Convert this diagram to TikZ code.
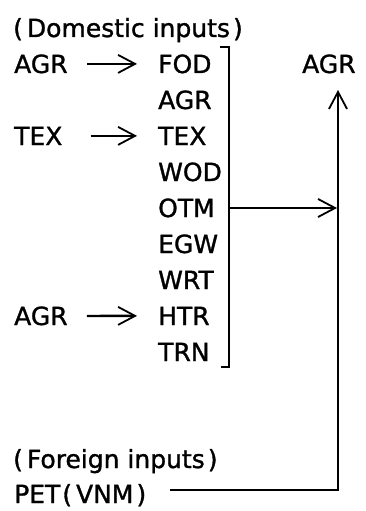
\documentclass[tikz,border=0pt]{standalone}
\usepackage{fontspec}
\setmainfont{DejaVu Sans}[RawFeature={embolden=1.2}]
\usetikzlibrary{arrows.meta}
\newcommand{\lp}{(\kern4pt}
\newcommand{\rp}{\kern3pt)}
\begin{document}
\begin{tikzpicture}[x=1pt,y=-1pt,
  lbl/.style={anchor=base west,inner sep=0pt,font=\fontsize{25}{30}\selectfont},
  ln/.style={line width=2.3pt},
  arr/.style={ln,-{Straight Barb[length=17pt,width=18pt,line width=1.8pt]}}]
\useasboundingbox (0,0) rectangle (365,511);
% texts
\node[lbl] (dom) at (13,37) {\lp Domestic inputs\rp};
\node[lbl] (agrA) at (14,73) {AGR};
\node[lbl] (texL) at (14,145) {TEX};
\node[lbl] (agrB) at (14,325) {AGR};
\node[lbl] (fod) at (158,73) {FOD};
\node[lbl] (agr2) at (158,109) {AGR};
\node[lbl] (tex) at (158,145) {TEX};
\node[lbl] (wod) at (158,181) {WOD};
\node[lbl] (otm) at (158,217) {OTM};
\node[lbl] (egw) at (158,253) {EGW};
\node[lbl] (wrt) at (158,289) {WRT};
\node[lbl] (htr) at (158,325) {HTR};
\node[lbl] (trn) at (158,361) {TRN};
\node[lbl] (agrR) at (302,73) {AGR};
\node[lbl] (for) at (13,468) {\lp Foreign inputs\rp};
\node[lbl] (pet) at (14,503) {PET\kern2pt\lp VNM\rp};
% bracket
\coordinate (bt) at (229,47);
\coordinate (bb) at (229,367);
\draw[ln] ([xshift=-9pt]bt) -- (bt) -- (bb) -- ([xshift=-8pt]bb);
% left arrows
\draw[arr] ([xshift=19pt]agrA.east) -- ([xshift=-21pt]fod.west);
\draw[arr] ([xshift=28pt]texL.east) -- ([xshift=-21pt]tex.west);
\draw[arr] ([xshift=19pt]agrB.east) -- ([xshift=-21pt]htr.west);
% OTM arrow
\coordinate (vx) at (337,0);
\coordinate (ot) at (229,208);
\draw[arr] (ot) -- (ot -| vx);
% foreign line
\coordinate (corner) at (338,490);
\draw[arr] ([xshift=24pt]pet.east |- corner) -- (corner) -- ([yshift=-17pt]corner |- agrR.base);
\end{tikzpicture}
\end{document}
